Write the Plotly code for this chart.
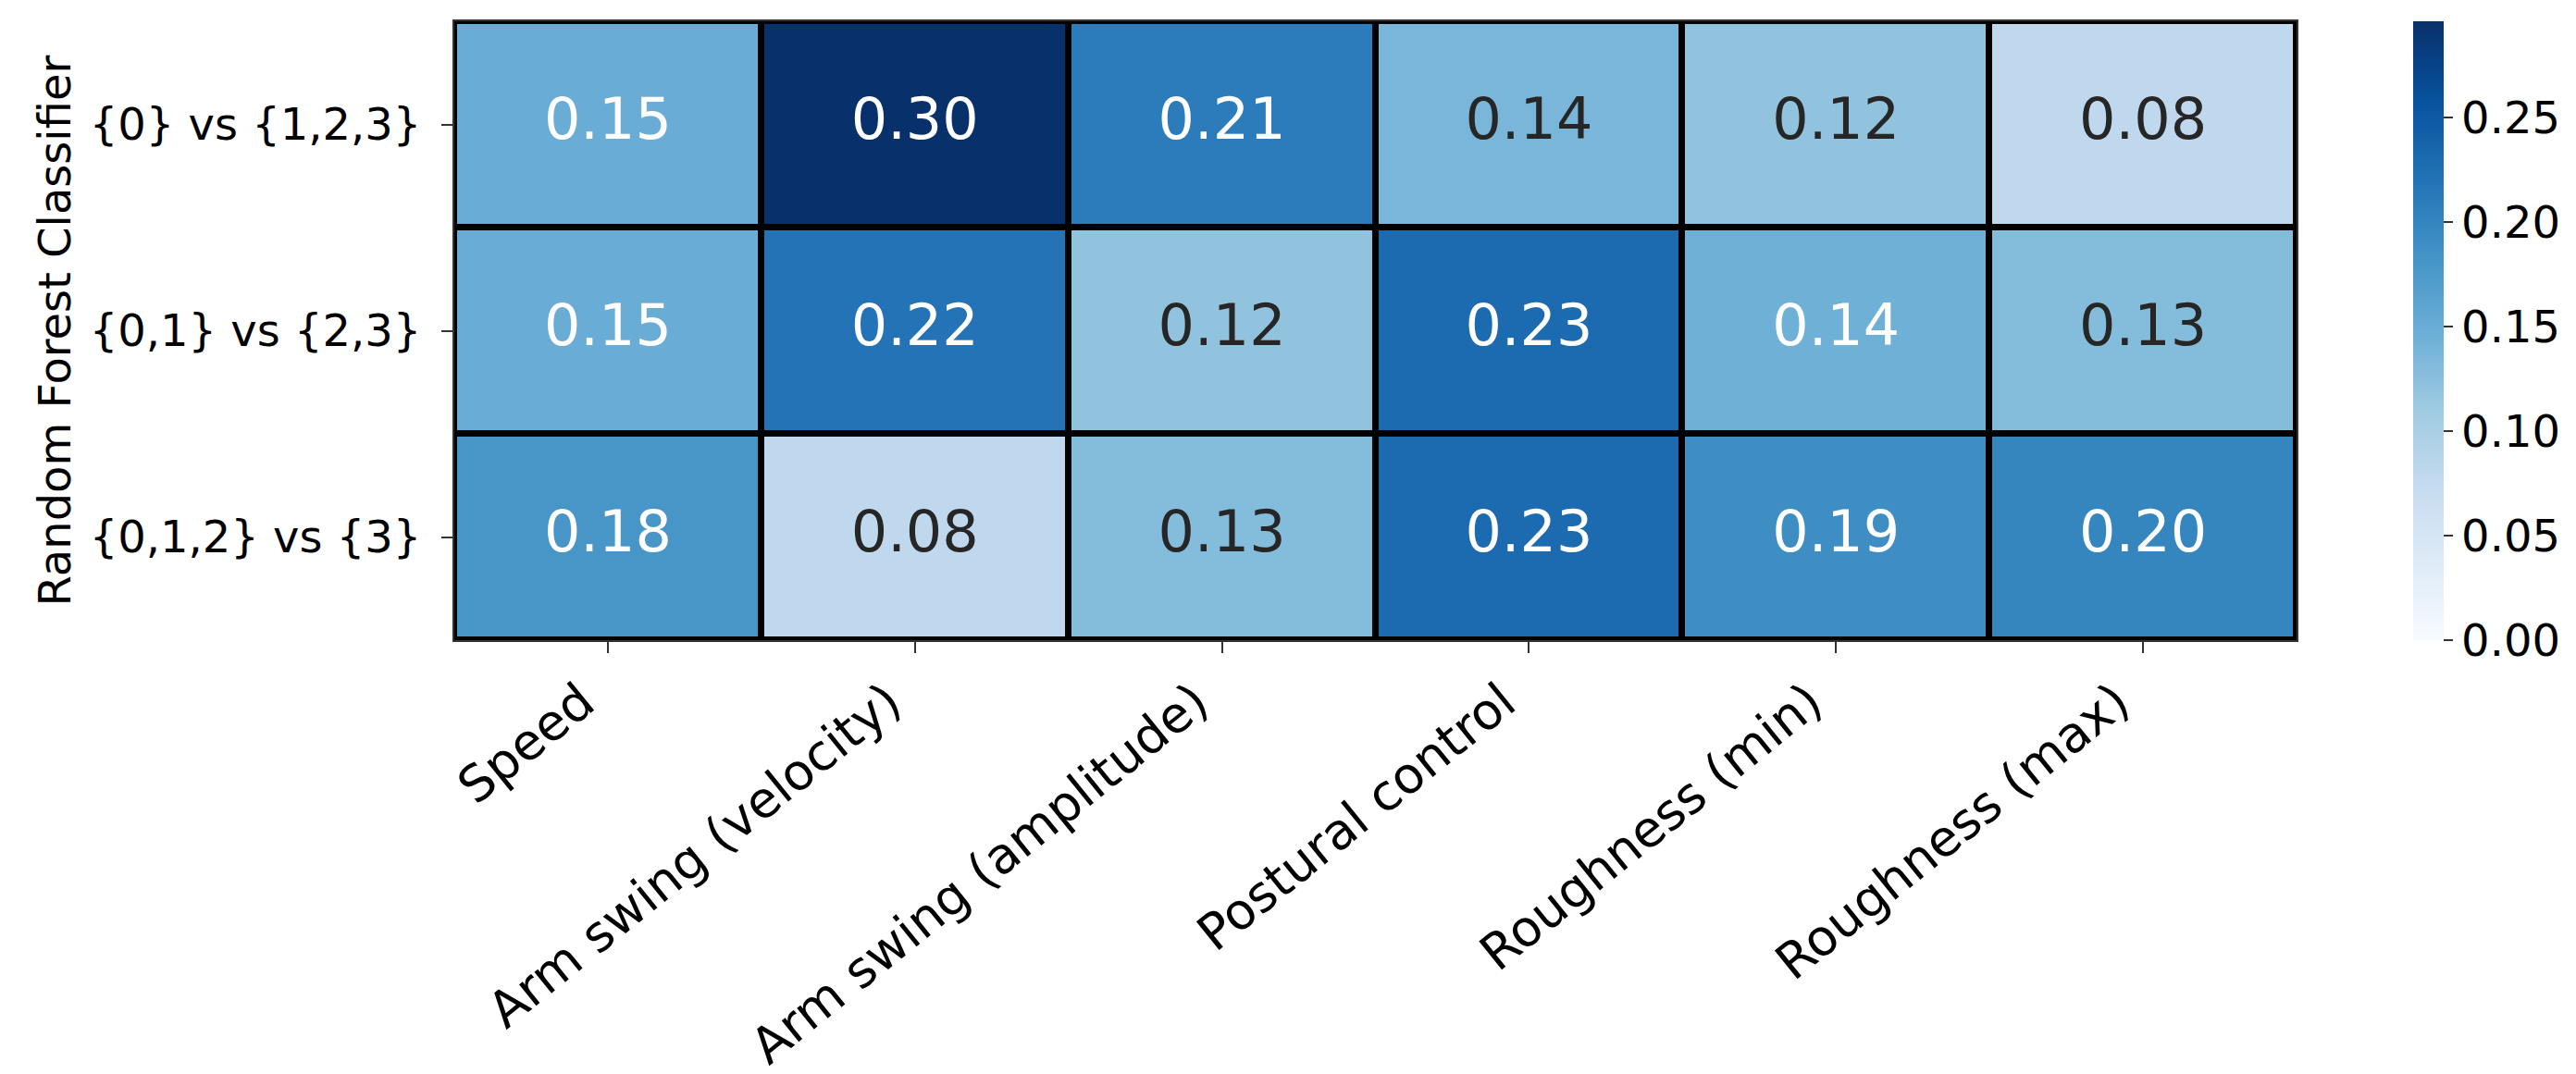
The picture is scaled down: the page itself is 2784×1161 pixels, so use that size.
import numpy as np
import plotly.graph_objects as go

features = ["Speed", "Arm swing (velocity)", "Arm swing (amplitude)",
            "Postural control", "Roughness (min)", "Roughness (max)"]
tasks = ["{0} vs {1,2,3}", "{0,1} vs {2,3}", "{0,1,2} vs {3}"]
y_title = "Random Forest Classifier"

row_0_vs_123 = [0.15, 0.296, 0.21, 0.137, 0.12, 0.08]
row_01_vs_23 = [0.15, 0.22, 0.12, 0.23, 0.145, 0.13]
row_012_vs_3 = [0.18, 0.08, 0.13, 0.23, 0.19, 0.20]

cbar_ticks = [0.0, 0.05, 0.10, 0.15, 0.20, 0.25]

blues = ["#f7fbff", "#deebf7", "#c6dbef", "#9ecae1", "#6baed6",
         "#4292c6", "#2171b5", "#08519c", "#08306b"]

z = np.array([row_0_vs_123, row_01_vs_23, row_012_vs_3])
zmin, zmax = 0.0, float(z.max())

colorscale = [[i / (len(blues) - 1), c] for i, c in enumerate(blues)]


def hex2rgb(h):
    h = h.lstrip("#")
    return np.array([int(h[i:i + 2], 16) for i in (0, 2, 4)]) / 255.0


stops = np.linspace(0, 1, len(blues))
rgbs = np.array([hex2rgb(c) for c in blues])


def value_color(v):
    t = (v - zmin) / (zmax - zmin)
    return np.array([np.interp(t, stops, rgbs[:, k]) for k in range(3)])


def rel_lum(rgb):
    lin = np.where(rgb <= 0.03928, rgb / 12.92, ((rgb + 0.055) / 1.055) ** 2.4)
    return 0.2126 * lin[0] + 0.7152 * lin[1] + 0.0722 * lin[2]


FONT = "DejaVu Sans"
L_MARGIN, R_EDGE = 483, 2474
PLOT_W = R_EDGE - L_MARGIN

xs, ys, txt, tcol = [], [], [], []
for i, t in enumerate(tasks):
    for j, f in enumerate(features):
        v = z[i, j]
        xs.append(f)
        ys.append(t)
        txt.append(f"{v:.2f}")
        tcol.append("#262626" if rel_lum(value_color(v)) > 0.408 else "#ffffff")

fig = go.Figure()
fig.add_trace(go.Heatmap(
    z=z, x=features, y=tasks,
    colorscale=colorscale, zmin=zmin, zmax=zmax,
    xgap=7, ygap=7,
    hoverinfo="skip",
    colorbar=dict(
        x=(2600 - L_MARGIN) / PLOT_W, xanchor="left", xpad=0,
        y=0.5, yanchor="middle", len=1, lenmode="fraction", ypad=0,
        thickness=33, outlinewidth=0,
        tickvals=cbar_ticks, ticktext=[f"{v:.2f}" for v in cbar_ticks],
        ticks="outside", ticklen=10, tickwidth=2, tickcolor="#333333",
        tickfont=dict(family=FONT, size=48, color="#000000"),
    ),
))
fig.add_trace(go.Scatter(
    x=xs, y=ys, mode="text", text=txt,
    textfont=dict(family=FONT, size=62, color=tcol),
    hoverinfo="skip", showlegend=False,
))

fig.update_layout(
    width=2784, height=1161,
    margin=dict(l=L_MARGIN, r=2784 - R_EDGE, t=15, b=477, autoexpand=False),
    paper_bgcolor="white", plot_bgcolor="black",
    showlegend=False,
    font=dict(family=FONT, color="#000000"),
    annotations=[dict(
        text=y_title, textangle=-90,
        xref="paper", yref="paper",
        x=(50 - L_MARGIN) / PLOT_W, y=0.5,
        xanchor="center", yanchor="middle", showarrow=False,
        font=dict(family=FONT, size=48, color="#000000"),
    )],
)
fig.update_xaxes(
    automargin=False,
    range=[-0.5, len(features) - 0.5], tickangle=-39,
    showgrid=False, zeroline=False,
    showline=True, linecolor="#333333", linewidth=2, mirror=True,
    ticks="outside", ticklen=12, tickwidth=2, tickcolor="#333333",
    ticklabelshift=-28,
    tickfont=dict(family=FONT, size=54, color="#000000"),
)
fig.update_yaxes(
    automargin=False,
    range=[len(tasks) - 0.5, -0.5],
    showgrid=False, zeroline=False,
    showline=True, linecolor="#333333", linewidth=2, mirror=True,
    ticks="outside", ticklen=12, tickwidth=2, tickcolor="#333333",
    ticklabelstandoff=12,
    tickfont=dict(family=FONT, size=48, color="#000000"),
)

fig.write_html("out.html")
